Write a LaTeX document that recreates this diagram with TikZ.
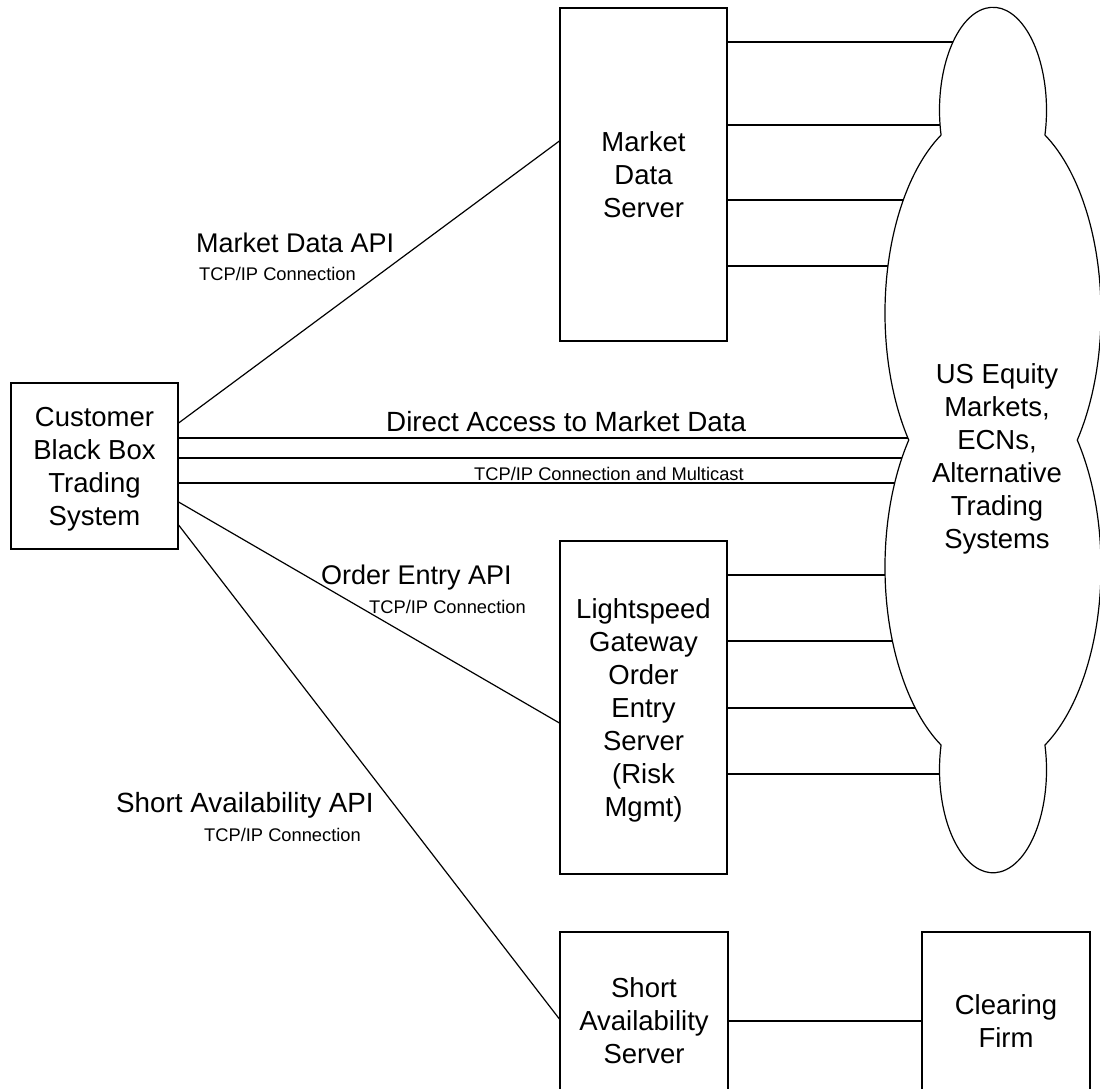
\documentclass[tikz,border=0pt]{standalone}
\usepackage{fontspec}
\setmainfont{Liberation Sans}
\begin{document}
\begin{tikzpicture}[x=1pt,y=1pt,
  box/.style={draw, line width=1.2pt, inner sep=0pt, align=center, text depth=0pt,
              font=\fontsize{27.5}{33}\selectfont},
  link/.style={line width=1.2pt},
  biglabel/.style={anchor=base west, inner sep=0pt, font=\fontsize{27}{33}\selectfont},
  widelabel/.style={biglabel, font=\fontsize{27.8}{33}\selectfont},
  smalllabel/.style={anchor=base west, inner sep=0pt, font=\fontsize{18.3}{21}\selectfont}]
\useasboundingbox (0,0) rectangle (1100,-1089);

% servers and endpoints
\node[box, minimum width=167pt, minimum height=166pt] (cust) at (94.5,-466)
  {Customer\\Black Box\\Trading\\System};
\node[box, minimum width=167pt, minimum height=333pt] (mds) at (643.5,-174.5)
  {Market\\Data\\Server};
\node[box, minimum width=167pt, minimum height=333pt] (oes) at (643.5,-707.5)
  {Lightspeed\\Gateway\\Order\\Entry\\Server\\(Risk\\Mgmt)};
\node[box, minimum width=168pt, minimum height=178pt] (sas) at (644,-1021)
  {Short\\Availability\\Server};
\node[box, minimum width=168pt, minimum height=178pt] (clr) at (1006,-1021)
  {Clearing\\Firm};

% centre of the exchange cloud
\coordinate (mkt) at (993,-440);

% API connections from the customer system
\draw[link] (cust.east |- 0,-423) -- (mds.west |- 0,-141);
\draw[link] (cust.east |- 0,-502) -- (oes.west |- 0,-723);
\draw[link] (cust.east |- 0,-525) -- (sas.west |- 0,-1019);
\draw[link] (sas.east) -- (clr.west);

% direct market access lines
\foreach \yy in {438,458,483}
  \draw[link] (cust.east |- 0,-\yy) -- (mkt |- 0,-\yy);

% server feeds into the markets
\foreach \yy in {42,125,200,266}
  \draw[link] (mds.east |- 0,-\yy) -- (mkt |- 0,-\yy);
\foreach \yy in {575,641,708,774}
  \draw[link] (oes.east |- 0,-\yy) -- (mkt |- 0,-\yy);

% exchange cloud outline
\draw[line width=1.2pt, fill=white]
  (993,-110.3) ++(193.9:53.5pt and 103pt)
  arc[start angle=193.9, end angle=-13.9, x radius=53.5pt, y radius=103pt]
  arc[start angle=61.27, end angle=-38.73, x radius=108pt, y radius=203pt]
  arc[start angle=38.73, end angle=-61.27, x radius=108pt, y radius=203pt]
  arc[start angle=13.9, end angle=-193.9, x radius=53.5pt, y radius=103pt]
  arc[start angle=241.27, end angle=141.27, x radius=108pt, y radius=203pt]
  arc[start angle=218.73, end angle=118.73, x radius=108pt, y radius=203pt]
  -- cycle;
\node[align=center, inner sep=0pt, text depth=0pt, font=\fontsize{27.5}{33}\selectfont]
  (mkttext) at (997,-456) {US Equity\\Markets,\\ECNs,\\Alternative\\Trading\\Systems};

% connection labels
\node[biglabel] (l1) at (196,-252) {Market Data API};
\node[smalllabel] (l1s) at (199,-280) {TCP/IP Connection};
\node[widelabel] (l2) at (386,-431) {Direct Access to Market Data};
\node[smalllabel] (l2s) at (474,-480) {TCP/IP Connection and Multicast};
\node[biglabel] (l3) at (321,-584) {Order Entry API};
\node[smalllabel] (l3s) at (369,-613) {TCP/IP Connection};
\node[widelabel] (l4) at (116,-812) {Short Availability API};
\node[smalllabel] (l4s) at (204,-841) {TCP/IP Connection};
\end{tikzpicture}
\end{document}
